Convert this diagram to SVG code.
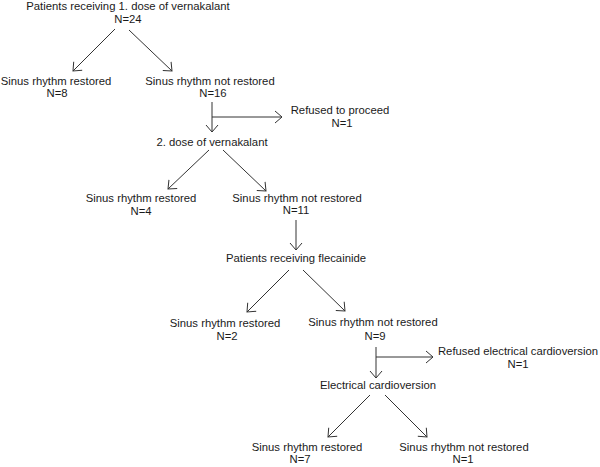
<svg xmlns="http://www.w3.org/2000/svg" width="600" height="467" viewBox="0 0 600 467">
<style>
text{font-family:"Liberation Sans",Arial,sans-serif;font-size:11.3px;fill:#1a1a1a;text-anchor:middle}
.c line{stroke:#333;stroke-width:1;fill:none;marker-end:url(#ah)}
</style>
<defs>
<marker id="ah" markerUnits="userSpaceOnUse" markerWidth="20" markerHeight="20" refX="10" refY="10" orient="auto" viewBox="0 0 20 20">
<path d="M3,4 L10,10 L3,16" fill="none" stroke="#333" stroke-width="1"/>
</marker>
</defs>
<rect width="600" height="467" fill="#fff"/>
<g id="n1"><text x="128" y="10">Patients receiving 1. dose of vernakalant</text><text x="128" y="23">N=24</text></g>
<g id="n2"><text x="56" y="85">Sinus rhythm restored</text><text x="57" y="97">N=8</text></g>
<g id="n3"><text x="210" y="85">Sinus rhythm not restored</text><text x="213" y="97">N=16</text></g>
<g id="n4"><text x="340" y="114">Refused to proceed</text><text x="342" y="127">N=1</text></g>
<g id="n5"><text x="212" y="146">2. dose of vernakalant</text></g>
<g id="n6"><text x="141" y="202">Sinus rhythm restored</text><text x="141" y="215">N=4</text></g>
<g id="n7"><text x="297" y="202">Sinus rhythm not restored</text><text x="296" y="214">N=11</text></g>
<g id="n8"><text x="296" y="262">Patients receiving flecainide</text></g>
<g id="n9"><text x="225" y="327">Sinus rhythm restored</text><text x="227" y="340">N=2</text></g>
<g id="n10"><text x="373" y="326">Sinus rhythm not restored</text><text x="375" y="340">N=9</text></g>
<g id="n11"><text x="518" y="355">Refused electrical cardioversion</text><text x="518" y="368">N=1</text></g>
<g id="n12"><text x="378" y="389">Electrical cardioversion</text></g>
<g id="n13"><text x="307" y="451">Sinus rhythm restored</text><text x="300" y="463">N=7</text></g>
<g id="n14"><text x="464" y="451">Sinus rhythm not restored</text><text x="463" y="463">N=1</text></g>
<g class="c" id="connectors">
<line x1="115" y1="29" x2="73" y2="71"/>
<line x1="129" y1="30" x2="172" y2="71"/>
<line x1="212" y1="102" x2="212" y2="132"/>
<line x1="212" y1="117" x2="282" y2="117"/>
<line x1="209" y1="150" x2="168" y2="189"/>
<line x1="223" y1="150" x2="266" y2="191"/>
<line x1="296" y1="220" x2="296" y2="250"/>
<line x1="289" y1="270" x2="247" y2="312"/>
<line x1="303" y1="270" x2="345" y2="311"/>
<line x1="376" y1="347" x2="376" y2="378"/>
<line x1="376" y1="357" x2="433" y2="357"/>
<line x1="370" y1="395" x2="328" y2="437"/>
<line x1="385" y1="395" x2="427" y2="437"/>
</g>
</svg>
